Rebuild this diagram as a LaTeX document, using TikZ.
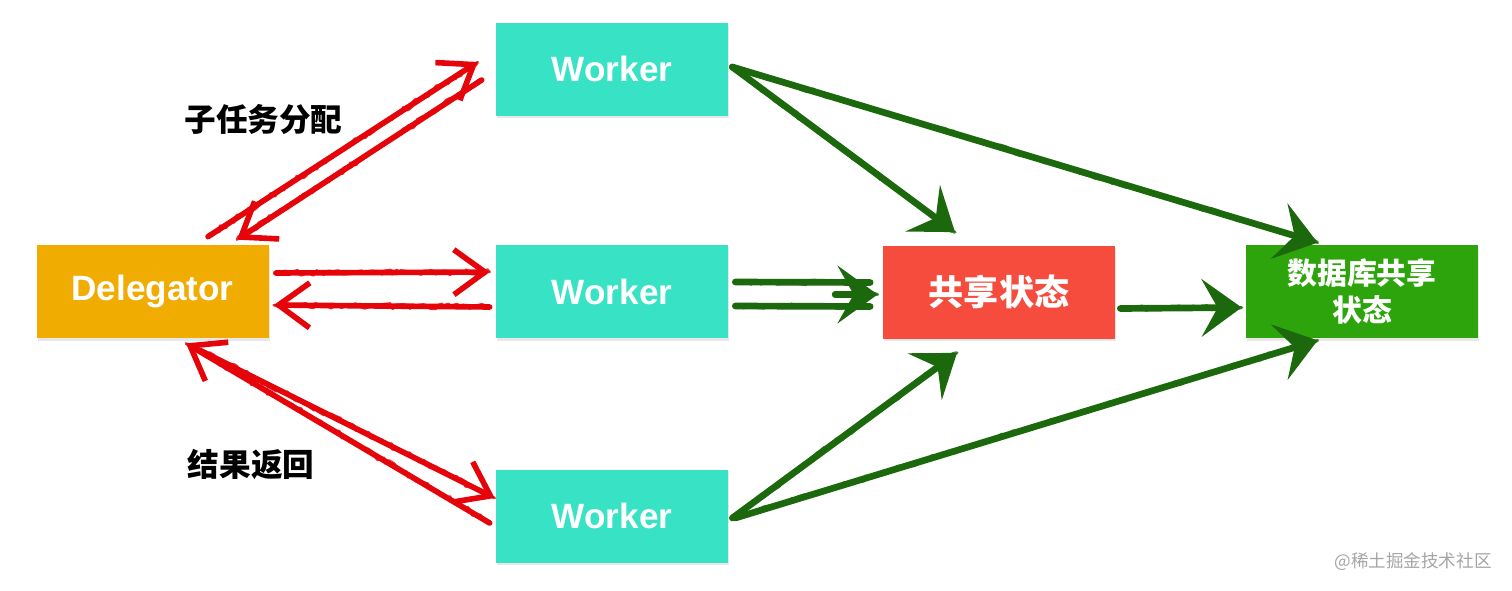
\documentclass[tikz,border=0pt]{standalone}
\usepackage{fontspec}
\setmainfont{Liberation Sans}
\newfontfamily\cjk{Noto Sans CJK SC}
\usetikzlibrary{arrows.meta,shadows,decorations.pathmorphing}

\definecolor{delegc}{RGB}{241,172,2}
\definecolor{workc}{RGB}{56,226,196}
\definecolor{statec}{RGB}{245,76,62}
\definecolor{dbc}{RGB}{46,164,12}
\definecolor{redc}{RGB}{228,4,10}
\definecolor{greenc}{RGB}{28,104,12}
\definecolor{markc}{RGB}{165,165,165}

\tikzset{
	box/.style={minimum width=4.64cm, minimum height=1.86cm, inner sep=0pt, align=center, text=white,
		drop shadow={shadow xshift=0.6pt, shadow yshift=-1.6pt, opacity=0.18}},
	redline/.style={draw=redc, line width=3.2pt, line cap=round, line join=round,
		-{Straight Barb[length=0.62cm, width=0.9cm, line width=3.2pt]},
		postaction={draw=redc, line width=1.6pt, opacity=0.8, -, decorate,
			decoration={random steps, segment length=2pt, amplitude=1.5pt}}},
	greenline/.style={draw=greenc, line width=3.8pt, line cap=round, line join=round,
		-{Stealth[length=0.8cm, width=1.15cm, inset=0.32cm]},
		postaction={draw=greenc, line width=1.8pt, opacity=0.8, -, decorate,
			decoration={random steps, segment length=3pt, amplitude=1.3pt}}},
	greenshaft/.style={draw=greenc, line width=3.8pt, line cap=round,
		postaction={draw=greenc, line width=1.8pt, opacity=0.8, decorate,
			decoration={random steps, segment length=3pt, amplitude=1.3pt}}},
	tag/.style={font=\cjk\bfseries\fontsize{18}{20}\selectfont, text=black}
}

\begin{document}
\begin{tikzpicture}
			%%%%% START %%%%%
			\useasboundingbox (0, 0) rectangle (30.24, -11.8);
			
			\node[box, fill=delegc, font=\bfseries\fontsize{20}{24}\selectfont] (del) at (3.05, -5.83) {Delegator};
			\node[box, fill=workc, font=\bfseries\fontsize{20}{24}\selectfont] (w1) at (12.24, -1.38) {Worker};
			\node[box, fill=workc, font=\bfseries\fontsize{20}{24}\selectfont] (w2) at (12.24, -5.83) {Worker};
			\node[box, fill=workc, font=\bfseries\fontsize{20}{24}\selectfont] (w3) at (12.24, -10.32) {Worker};
			\node[box, fill=statec, font=\cjk\bfseries\fontsize{20}{24}\selectfont] (st) at (19.98, -5.84) {共享状态};
			\node[box, fill=dbc, font=\cjk\bfseries\fontsize{17}{21}\selectfont] (db) at (27.24, -5.83) {数据库共享\\状态};
			
			\node[tag] (split) at (5.27, -2.40) {子任务分配};
			\node[tag] (back) at (5.02, -9.30) {结果返回};
			
			% delegator <-> workers
			\draw[redline] ([shift={(1.11, 0.16)}]del.north) -- ([shift={(-0.36, 0.14)}]w1.west);
			\draw[redline] ([shift={(-0.28, -0.22)}]w1.west) -- ([shift={(1.69, 0.10)}]del.north);
			\draw[redline] ([shift={(0.14, 0.37)}]del.east) -- ([shift={(-0.12, 0.39)}]w2.west);
			\draw[redline] ([shift={(-0.12, -0.31)}]w2.west) -- ([shift={(0.10, -0.27)}]del.east);
			\draw[redline] ([shift={(0.95, -0.24)}]del.south) -- ([shift={(-0.02, 0.36)}]w3.west);
			\draw[redline] ([shift={(-0.12, -0.14)}]w3.west) -- ([shift={(0.67, -0.10)}]del.south);
			
			% workers -> shared state
			\draw[greenline] ([shift={(0.08, 0.04)}]w1.east) -- ([shift={(-0.88, 0.26)}]st.north);
			\draw[greenline] ([shift={(0.08, 0.04)}]w1.east) -- ([shift={(1.44, 0.04)}]db.north west);
			\draw[greenshaft] ([shift={(0.14, 0.19)}]w2.east) -- ([shift={(-0.25, 0.19)}]st.west);
			\draw[greenshaft] ([shift={(0.14, -0.29)}]w2.east) -- ([shift={(-0.25, -0.29)}]st.west);
			\draw[greenline] ([shift={(-0.95, -0.05)}]st.west) -- ([shift={(-0.1, -0.05)}]st.west);
			\draw[greenline] ([shift={(0.10, -0.33)}]st.east) -- ([shift={(-0.08, -0.32)}]db.west);
			\draw[greenline] ([shift={(0.08, -0.04)}]w3.east) -- ([shift={(-0.84, -0.28)}]st.south);
			\draw[greenline] ([shift={(0.14, -0.04)}]w3.east) -- ([shift={(1.44, -0.04)}]db.south west);
			
			\node[font=\cjk\fontsize{10}{12}\selectfont, text=markc] (mark) at (28.26, -11.24) {@稀土掘金技术社区};
			%%%%% END %%%%%
\end{tikzpicture}
\end{document}
